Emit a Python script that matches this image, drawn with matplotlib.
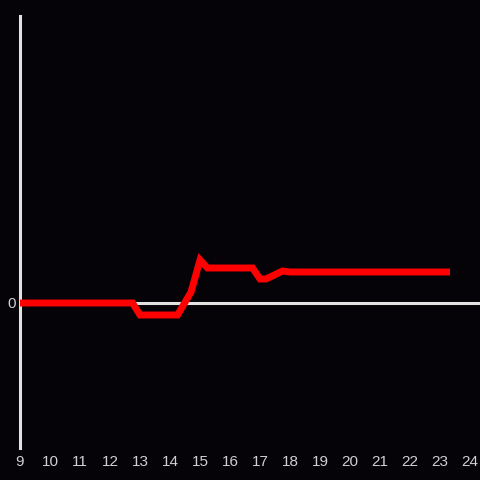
import matplotlib
matplotlib.use("Agg")
import matplotlib.pyplot as plt

# hour of day and value of the red line
hours = [9.0, 12.75, 13.0, 14.25, 14.7, 15.0, 15.25, 16.75, 17.0, 17.2, 17.75, 18.0, 23.33]
values = [0.0, 0.0, -1.2, -1.2, 1.1, 4.3, 3.5, 3.5, 2.4, 2.4, 3.2, 3.1, 3.1]
x_ticks = list(range(9, 25))
y_ticks = [0]

bg = "#060308"
axis_col = "#e2e2e2"
text_col = "#d0d0d0"

plt.rcParams["font.family"] = ["Liberation Sans", "DejaVu Sans"]

fig = plt.figure(figsize=(4.8, 4.8), dpi=100, facecolor=bg)
ax = fig.add_axes([20 / 480, 32 / 480, 460 / 480, 432 / 480], facecolor=bg)

ax.axhline(0, color=axis_col, linewidth=2.2, zorder=1)
ax.plot(hours, values, color="#ff0000", linewidth=5, solid_capstyle="butt",
        solid_joinstyle="miter", zorder=3)

ax.set_xlim(9, 24.33)
ax.set_ylim(-14.5, 28.7)

for side in ["top", "right", "bottom"]:
    ax.spines[side].set_visible(False)
ax.spines["left"].set_color(axis_col)
ax.spines["left"].set_linewidth(2.2)

ax.set_xticks(x_ticks)
ax.set_xticklabels([str(h) for h in x_ticks])
ax.set_yticks(y_ticks)
ax.set_yticklabels([str(v) for v in y_ticks])
ax.tick_params(axis="both", length=0, colors=text_col, labelsize=11)
ax.tick_params(axis="x", pad=5)
ax.tick_params(axis="y", pad=3)

fig.savefig("out.png", dpi=100, facecolor=bg)
